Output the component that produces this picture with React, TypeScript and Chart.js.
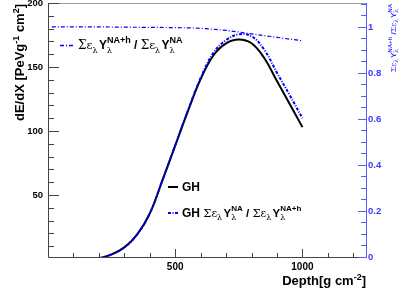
import React, { useEffect, useRef } from "react";
import { Chart, registerables } from "chart.js";

Chart.register(...registerables);

// ---- data ----
const depth = [185, 200, 250, 300, 350, 400, 450, 500, 550, 600, 650, 700, 750, 800, 850, 900, 950, 1000];
const ghNA = [0, 0.5, 3.5, 9, 19, 35.5, 61.5, 88.5, 115.5, 140.5, 159, 168.5, 171.5, 168.5, 157, 139, 121, 103];
const ghCorrected = [0, 0.5, 3.5, 9, 19, 35.5, 61.5, 88.7, 116, 141.5, 161, 171, 175.5, 174, 163.5, 145.5, 128, 110];
const ratioDepth = [15, 100, 200, 300, 400, 500, 600, 650, 700, 750, 800, 850, 900, 950, 1000];
const ratioValues = [1.0, 1.0, 1.0, 0.999, 0.998, 0.997, 0.994, 0.99, 0.985, 0.978, 0.97, 0.962, 0.955, 0.947, 0.94];

const xTickValues = [100, 200, 300, 400, 500, 600, 700, 800, 900, 1000, 1100, 1200];
const xTickLabels = [500, 1000];
const yTickValues = Array.from({ length: 20 }, (_, i) => (i + 1) * 10);
const yTickLabels = [50, 100, 150, 200];
const y2TickValues = Array.from({ length: 23 }, (_, i) => +(i * 0.05).toFixed(2));
const y2TickLabels = ["0", "0.2", "0.4", "0.6", "0.8", "1"];

const HELV = '"Liberation Sans", Arial, Helvetica, sans-serif';
const SYM = '"DejaVu Serif", "Liberation Serif", serif';
const B = (s: number) => `bold ${s}px ${HELV}`;
const S = (s: number) => `${s}px ${SYM}`;

const BLUE = "#0000ff";
const AXBLUE = "#5a5aff";
const LABBLUE = "#3838ff";

type Seg = { t?: string; f?: string; dy?: number; c?: string; stack?: Seg[]; sp?: number };

function rich(ctx: CanvasRenderingContext2D, x: number, y: number, segs: Seg[], color: string) {
  for (const s of segs) {
    if (s.stack) {
      let w = 0;
      for (const k of s.stack) {
        ctx.font = k.f!;
        ctx.fillStyle = k.c || color;
        ctx.fillText(k.t!, x, y + (k.dy || 0));
        w = Math.max(w, ctx.measureText(k.t!).width);
      }
      x += w + (s.sp || 0);
    } else {
      ctx.font = s.f!;
      ctx.fillStyle = s.c || color;
      ctx.fillText(s.t!, x, y + (s.dy || 0));
      x += ctx.measureText(s.t!).width + (s.sp || 0);
    }
  }
  return x;
}

function richWidth(ctx: CanvasRenderingContext2D, segs: Seg[]) {
  let x = 0;
  for (const s of segs) {
    if (s.stack) {
      let w = 0;
      for (const k of s.stack) {
        ctx.font = k.f!;
        w = Math.max(w, ctx.measureText(k.t!).width);
      }
      x += w + (s.sp || 0);
    } else {
      ctx.font = s.f!;
      x += ctx.measureText(s.t!).width + (s.sp || 0);
    }
  }
  return x;
}

// Σε_λ Y_λ^{sup}
function sumTerm(m: number, sup: string): Seg[] {
  const sub = Math.round(m * 0.7);
  const sp = Math.round(m * 0.72);
  return [
    { t: "\u03A3", f: S(m) },
    { t: "\u03B5", f: S(m * 0.95) },
    { stack: [{ t: "\u03BB", f: S(sub), dy: m * 0.3 }], sp: m * 0.12 },
    { t: "Y", f: B(m) },
    { stack: [{ t: sup, f: B(sp), dy: -m * 0.48 }, { t: "\u03BB", f: S(sub), dy: m * 0.3 }] },
  ];
}

const overlay = {
  id: "rootOverlay",
  afterDraw(chart: any) {
    const ctx: CanvasRenderingContext2D = chart.ctx;
    const a = chart.chartArea;
    const xs = chart.scales.x;
    const ys = chart.scales.y;
    const y2 = chart.scales.y2;
    ctx.save();
    ctx.textBaseline = "alphabetic";

    // frame
    ctx.strokeStyle = "#444";
    ctx.lineWidth = 1;
    ctx.beginPath();
    ctx.moveTo(a.left + 0.5, a.top + 0.5);
    ctx.lineTo(a.left + 0.5, a.bottom + 0.5);
    ctx.lineTo(a.right, a.bottom + 0.5);
    ctx.stroke();
    ctx.strokeStyle = "#999";
    ctx.beginPath();
    ctx.moveTo(a.left, a.top + 0.5);
    ctx.lineTo(a.right, a.top + 0.5);
    ctx.stroke();

    // x ticks
    ctx.strokeStyle = "#444";
    ctx.beginPath();
    for (const v of xTickValues) {
      const px = Math.round(xs.getPixelForValue(v)) + 0.5;
      const len = xTickLabels.includes(v) ? 8 : 4;
      ctx.moveTo(px, a.bottom);
      ctx.lineTo(px, a.bottom - len);
    }
    // y ticks
    for (const v of yTickValues) {
      const py = Math.round(ys.getPixelForValue(v)) + 0.5;
      const len = yTickLabels.includes(v) ? 11 : 6;
      ctx.moveTo(a.left, py);
      ctx.lineTo(a.left + len, py);
    }
    ctx.stroke();

    // right axis
    ctx.strokeStyle = AXBLUE;
    ctx.beginPath();
    ctx.moveTo(a.right + 0.5, a.top);
    ctx.lineTo(a.right + 0.5, a.bottom + 1);
    for (const v of y2TickValues) {
      const py = Math.round(y2.getPixelForValue(v)) + 0.5;
      const major = Math.abs(v / 0.2 - Math.round(v / 0.2)) < 1e-6;
      const len = major ? 8 : 5;
      ctx.moveTo(a.right, py);
      ctx.lineTo(a.right - len, py);
    }
    ctx.stroke();

    // tick labels
    ctx.fillStyle = "#000";
    ctx.textBaseline = "middle";
    ctx.font = B(10);
    ctx.textAlign = "center";
    for (const v of xTickLabels) ctx.fillText(String(v), xs.getPixelForValue(v), a.bottom + 10);
    ctx.font = B(9.5);
    ctx.textAlign = "right";
    for (const v of yTickLabels) ctx.fillText(String(v), a.left - 5, ys.getPixelForValue(v));
    ctx.textAlign = "left";
    ctx.fillStyle = LABBLUE;
    ctx.font = B(9.5);
    for (const l of y2TickLabels) ctx.fillText(l, a.right + 2, y2.getPixelForValue(parseFloat(l)));
    ctx.textBaseline = "alphabetic";

    // x title
    const xt: Seg[] = [{ t: "Depth[g cm", f: B(13) }, { t: "-2", f: B(9), dy: -5 }, { t: "]", f: B(13) }];
    const xw = richWidth(ctx, xt);
    rich(ctx, 366 - xw, 285, xt, "#000");

    // y title (rotated)
    const yt: Seg[] = [
      { t: "dE/dX [PeVg", f: B(13) },
      { t: "-1", f: B(9), dy: -5 },
      { t: " cm", f: B(13) },
      { t: "2", f: B(9), dy: -5 },
      { t: "]", f: B(13) },
    ];
    const yw = richWidth(ctx, yt);
    ctx.save();
    ctx.translate(24, 4 + yw);
    ctx.rotate(-Math.PI / 2);
    rich(ctx, 0, 0, yt, "#000");
    ctx.restore();

    // y2 title (rotated)
    const y2t: Seg[] = [...sumTerm(8, "NA+h"), { t: " /", f: B(8) }, ...sumTerm(8, "NA")];
    const y2w = richWidth(ctx, y2t);
    ctx.save();
    ctx.translate(396, 4 + y2w);
    ctx.rotate(-Math.PI / 2);
    rich(ctx, 0, 0, y2t, LABBLUE);
    ctx.restore();

    // legend 1
    ctx.strokeStyle = BLUE;
    ctx.lineWidth = 1.3;
    ctx.setLineDash([4, 2, 1, 2]);
    ctx.beginPath();
    ctx.moveTo(60, 45.5);
    ctx.lineTo(74, 45.5);
    ctx.stroke();
    const l1: Seg[] = [...sumTerm(12, "NA+h"), { t: " / ", f: B(12) }, ...sumTerm(12, "NA")];
    rich(ctx, 78, 49, l1, "#000");

    // legend 2
    ctx.setLineDash([]);
    ctx.strokeStyle = "#000";
    ctx.lineWidth = 2;
    ctx.beginPath();
    ctx.moveTo(168, 187);
    ctx.lineTo(178, 187);
    ctx.stroke();
    rich(ctx, 182, 191, [{ t: "GH", f: B(12) }], "#000");

    ctx.strokeStyle = BLUE;
    ctx.setLineDash([3, 1.5, 1, 1.5]);
    ctx.beginPath();
    ctx.moveTo(168, 213);
    ctx.lineTo(178, 213);
    ctx.stroke();
    ctx.setLineDash([]);
    const l2: Seg[] = [{ t: "GH ", f: B(12) }, ...sumTerm(11.5, "NA"), { t: " / ", f: B(11.5) }, ...sumTerm(11.5, "NA+h")];
    rich(ctx, 182, 217, l2, "#000");

    ctx.restore();
  },
};

export default function App() {
  const ref = useRef<HTMLCanvasElement | null>(null);
  useEffect(() => {
    if (!ref.current) return;
    const chart = new Chart(ref.current, {
      type: "line",
      data: {
        datasets: [
          {
            label: "GH corrected",
            data: depth.map((d, i) => ({ x: d, y: ghCorrected[i] })),
            borderColor: BLUE,
            borderWidth: 2,
            borderDash: [3, 1.5, 1, 1.5],
            pointRadius: 0,
            tension: 0.4,
            yAxisID: "y",
            fill: false,
          },
          {
            label: "GH",
            data: depth.map((d, i) => ({ x: d, y: ghNA[i] })),
            borderColor: "#000",
            borderWidth: 2,
            pointRadius: 0,
            tension: 0.4,
            yAxisID: "y",
            fill: false,
          },
          {
            label: "ratio",
            data: ratioDepth.map((d, i) => ({ x: d, y: ratioValues[i] })),
            borderColor: BLUE,
            borderWidth: 1.2,
            borderDash: [4, 2, 1, 2],
            pointRadius: 0,
            cubicInterpolationMode: "monotone",
            yAxisID: "y2",
            fill: false,
          },
        ],
      },
      options: {
        animation: false,
        responsive: false,
        events: [],
        layout: { padding: { left: 48, right: 41, top: 3, bottom: 36 } },
        plugins: { legend: { display: false }, tooltip: { enabled: false } },
        scales: {
          x: { type: "linear", min: 0, max: 1250, display: false },
          y: { type: "linear", min: 1.5, max: 200, display: false },
          y2: { type: "linear", min: 0, max: 1.104, display: false, position: "right" },
        },
      },
      plugins: [overlay],
    } as any);
    return () => chart.destroy();
  }, []);
  return (
    <div style={{ position: "fixed", left: 0, top: 0, width: 407, height: 293, background: "#fff" }}>
      <canvas ref={ref} width={407} height={293} style={{ display: "block", width: 407, height: 293 }} />
    </div>
  );
}
